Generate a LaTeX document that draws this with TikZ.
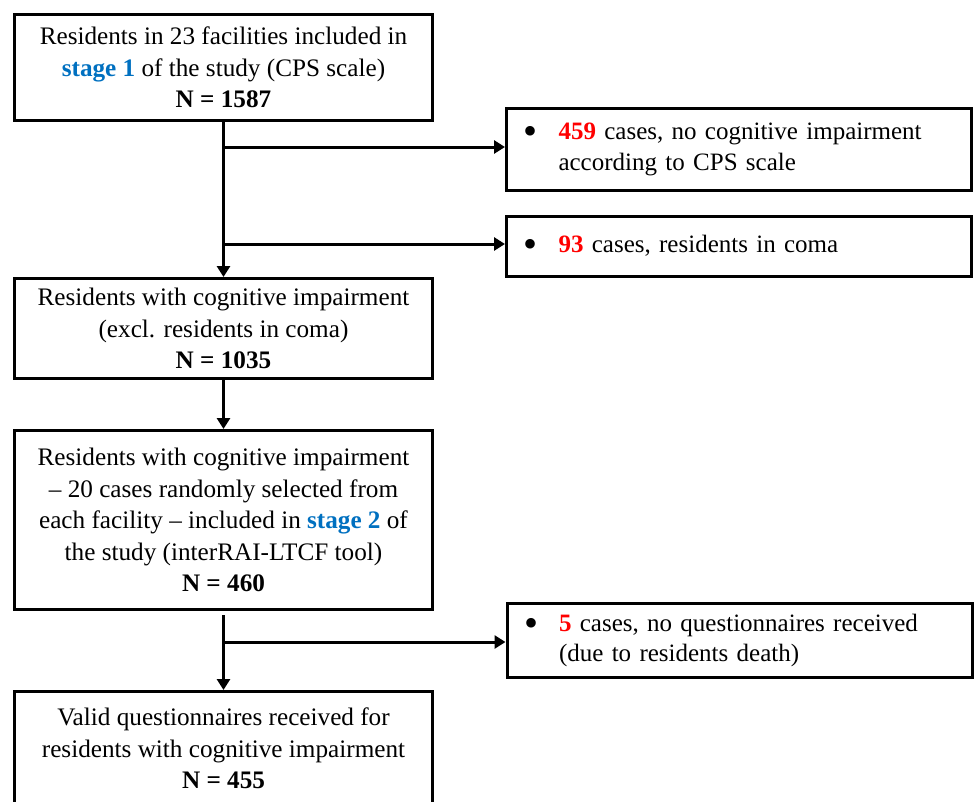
\documentclass[tikz,border=0pt]{standalone}
\usepackage{fontspec}
\setmainfont{Liberation Serif}
\usepackage{graphicx}
\usepackage{tikz}
\usetikzlibrary{positioning,arrows.meta}
\definecolor{stageblue}{HTML}{0070C0}
\definecolor{numred}{HTML}{FF0000}
\newcommand{\stg}[1]{\textbf{\color{stageblue}#1}}
\newcommand{\cnt}[1]{\textbf{\color{numred}#1}}
\newcommand{\bul}{\makebox[35pt][l]{\raisebox{-5pt}{\scalebox{1.6}{\textbullet}}}}

\begin{document}
\begin{tikzpicture}[x=1pt,y=-1pt,
	mainbox/.style={draw, line width=3pt, minimum width=418pt, inner sep=0pt, align=center,
		font=\fontsize{25.2}{31.5}\selectfont},
	sidebox/.style={draw, line width=3pt, minimum width=465pt, text width=431pt, inner xsep=17pt,
		inner ysep=0pt, align=left, font=\fontsize{25}{30.5}\selectfont},
	flow/.style={line width=3pt, -{Triangle[length=11pt,width=13pt]}}]
	\useasboundingbox (0,0) rectangle (975,801);
	
	% left column
	\node[mainbox, minimum height=106pt] (box1) at (223.5,67.5)
		{Residents in 23 facilities included in\\ \stg{stage 1} of the study (CPS scale)\\ \textbf{N = 1587}};
	\node[mainbox, minimum height=100pt] (box2) at (223.5,328.5)
		{Residents with cognitive impairment\\ (excl. residents in coma)\\ \textbf{N = 1035}};
	\node[mainbox, minimum height=179pt] (box3) at (223.5,520)
		{Residents with cognitive impairment\\ – 20 cases randomly selected from\\ each facility – included in \stg{stage 2} of\\ the study (interRAI-LTCF tool)\\ \textbf{N = 460}};
	\node[mainbox, minimum height=114pt] (box4) at (223.5,748.5)
		{Valid questionnaires received for\\ residents with cognitive impairment\\ \textbf{N = 455}};
	
	% excluded cases
	\node[sidebox, minimum height=82pt] (ex1) at (739,149.5)
		{\bul\cnt{459} cases, no cognitive impairment\\ \hspace*{35pt}according to CPS scale};
	\node[sidebox, minimum height=60pt] (ex2) at (739,246.5)
		{\bul\cnt{93} cases, residents in coma};
	\node[sidebox, minimum height=74pt] (ex3) at (739.5,640.5)
		{\bul\cnt{5} cases, no questionnaires received\\ \hspace*{35pt}(due to residents death)};
	
	% connectors
	\coordinate (br1) at (223.5,147);
	\coordinate (br2) at (223.5,244);
	\coordinate (br3) at (223.5,642);
	\draw[flow] (box1.south) -- (box2.north);
	\draw[flow] (br1) -- (br1 -| ex1.west);
	\draw[flow] (br2) -- (br2 -| ex2.west);
	\draw[flow] (box2.south) -- (box3.north);
	\draw[flow, shorten <=4pt] (box3.south) -- (box4.north);
	\draw[flow] (br3) -- (br3 -| ex3.west);
\end{tikzpicture}
\end{document}
